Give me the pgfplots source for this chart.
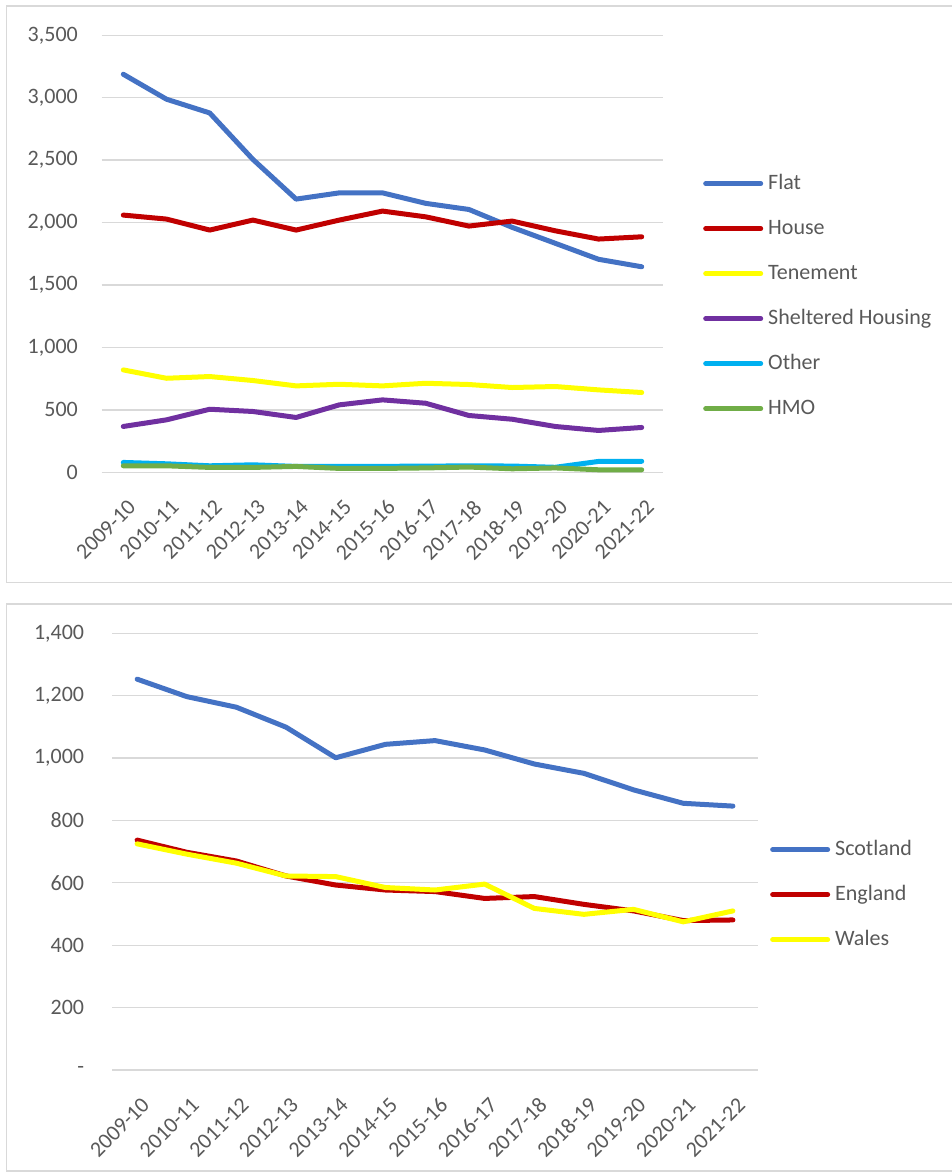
\documentclass[border=0pt]{standalone}
\usepackage{pgfplots}
\pgfplotsset{compat=1.18}
\usepackage{fontspec}
\setmainfont{Carlito}
\definecolor{cflat}{HTML}{4472C4}
\definecolor{chouse}{HTML}{C00000}
\definecolor{cten}{HTML}{FFFF00}
\definecolor{cshel}{HTML}{7030A0}
\definecolor{cother}{HTML}{00B0F0}
\definecolor{chmo}{HTML}{70AD47}
\definecolor{gridc}{HTML}{D9D9D9}
\definecolor{txt}{HTML}{595959}
\pgfplotsset{
  mystyle/.style={
    scale only axis, clip=false,
    xmin=-0.5, xmax=12.5,
    xtick={0,...,12},
    xticklabels={2009-10,2010-11,2011-12,2012-13,2013-14,2014-15,2015-16,2016-17,2017-18,2018-19,2019-20,2020-21,2021-22},
    axis line style={draw=none},
    major tick length=0pt,
    ymajorgrids, grid style={color=gridc, line width=1.3pt},
    tick label style={font=\fontsize{22}{26}\selectfont, text=txt},
    xticklabel style={xshift=3.4pt, yshift=-26pt, rotate=45, anchor=north east, inner sep=0pt},
    yticklabel style={anchor=east, inner sep=0pt},
    every axis plot/.append style={line width=5pt, line join=round, line cap=round},
    legend cell align=left,
    legend image code/.code={\draw[##1] (0pt,0pt) -- (55pt,0pt);},
    legend style={draw=none, fill=none, inner sep=0pt, row sep=24pt,
      font=\fontsize{22}{26}\selectfont, text=txt,
      nodes={inner sep=0pt, text height=16pt, text depth=5pt},
      /tikz/every odd column/.append style={column sep=5pt}},
  }
}
\begin{document}
\begin{tikzpicture}[x=1pt,y=1pt]
\useasboundingbox (0,0) rectangle (952,1173);
\draw[color=gridc, line width=1.3pt] (975,1167) -- (6.7,1167) -- (6.7,590.3) -- (975,590.3);
\draw[color=gridc, line width=1.3pt] (975,569) -- (6.7,569) -- (6.7,2) -- (975,2);

\begin{axis}[mystyle,
  at={(101.7pt,700.7pt)}, anchor=south west,
  width=561.6pt, height=437pt,
  ymin=0, ymax=3500,
  ytick={0,500,1000,1500,2000,2500,3000,3500},
  yticklabels={0,500,{1,000},{1,500},{2,000},{2,500},{3,000},{3,500}},
  yticklabel style={xshift=-23.7pt},
  legend style={at={(1.0707,0.685)}, anchor=north west},
]
\addplot[cflat] coordinates {(0,3188) (1,2988) (2,2878) (3,2506) (4,2188) (5,2238) (6,2238) (7,2154) (8,2105) (9,1962) (10,1834) (11,1706) (12,1646)};
\addlegendentry{Flat}
\addplot[chouse] coordinates {(0,2060) (1,2028) (2,1940) (3,2020) (4,1940) (5,2020) (6,2092) (7,2046) (8,1972) (9,2012) (10,1934) (11,1868) (12,1886)};
\addlegendentry{House}
\addplot[cten] coordinates {(0,820) (1,753) (2,767) (3,735) (4,692) (5,705) (6,692) (7,713) (8,703) (9,679) (10,687) (11,660) (12,639)};
\addlegendentry{Tenement}
\addplot[cshel] coordinates {(0,367) (1,420) (2,505) (3,487) (4,439) (5,540) (6,580) (7,553) (8,455) (9,425) (10,367) (11,335) (12,359)};
\addlegendentry{Sheltered Housing}
\addplot[cother] coordinates {(0,79) (1,68) (2,52) (3,60) (4,47) (5,48) (6,48) (7,49) (8,52) (9,50) (10,40) (11,87) (12,88)};
\addlegendentry{Other}
\addplot[chmo] coordinates {(0,52) (1,52) (2,39) (3,39) (4,47) (5,31) (6,31) (7,35) (8,42) (9,28) (10,35) (11,20) (12,20)};
\addlegendentry{HMO}
\end{axis}

\begin{axis}[mystyle,
  at={(112.3pt,103pt)}, anchor=south west,
  width=645.4pt, height=436.7pt,
  ymin=0, ymax=1400,
  ytick={0,200,400,600,800,1000,1200,1400},
  yticklabels={-,200,400,600,800,{1,000},{1,200},{1,400}},
  yticklabel style={xshift=-28pt},
  legend style={at={(1.019,0.529)}, anchor=north west},
]
\addplot[cflat] coordinates {(0,1253) (1,1197) (2,1163) (3,1099) (4,1001) (5,1044) (6,1056) (7,1026) (8,981) (9,951) (10,898) (11,855) (12,846)};
\addlegendentry{Scotland}
\addplot[chouse] coordinates {(0,737) (1,698) (2,670) (3,622) (4,593) (5,577) (6,572) (7,550) (8,556) (9,531) (10,510) (11,479) (12,481)};
\addlegendentry{England}
\addplot[cten] coordinates {(0,725) (1,692) (2,663) (3,622) (4,620) (5,585) (6,577) (7,596) (8,518) (9,499) (10,515) (11,475) (12,510)};
\addlegendentry{Wales}
\end{axis}
\end{tikzpicture}
\end{document}
